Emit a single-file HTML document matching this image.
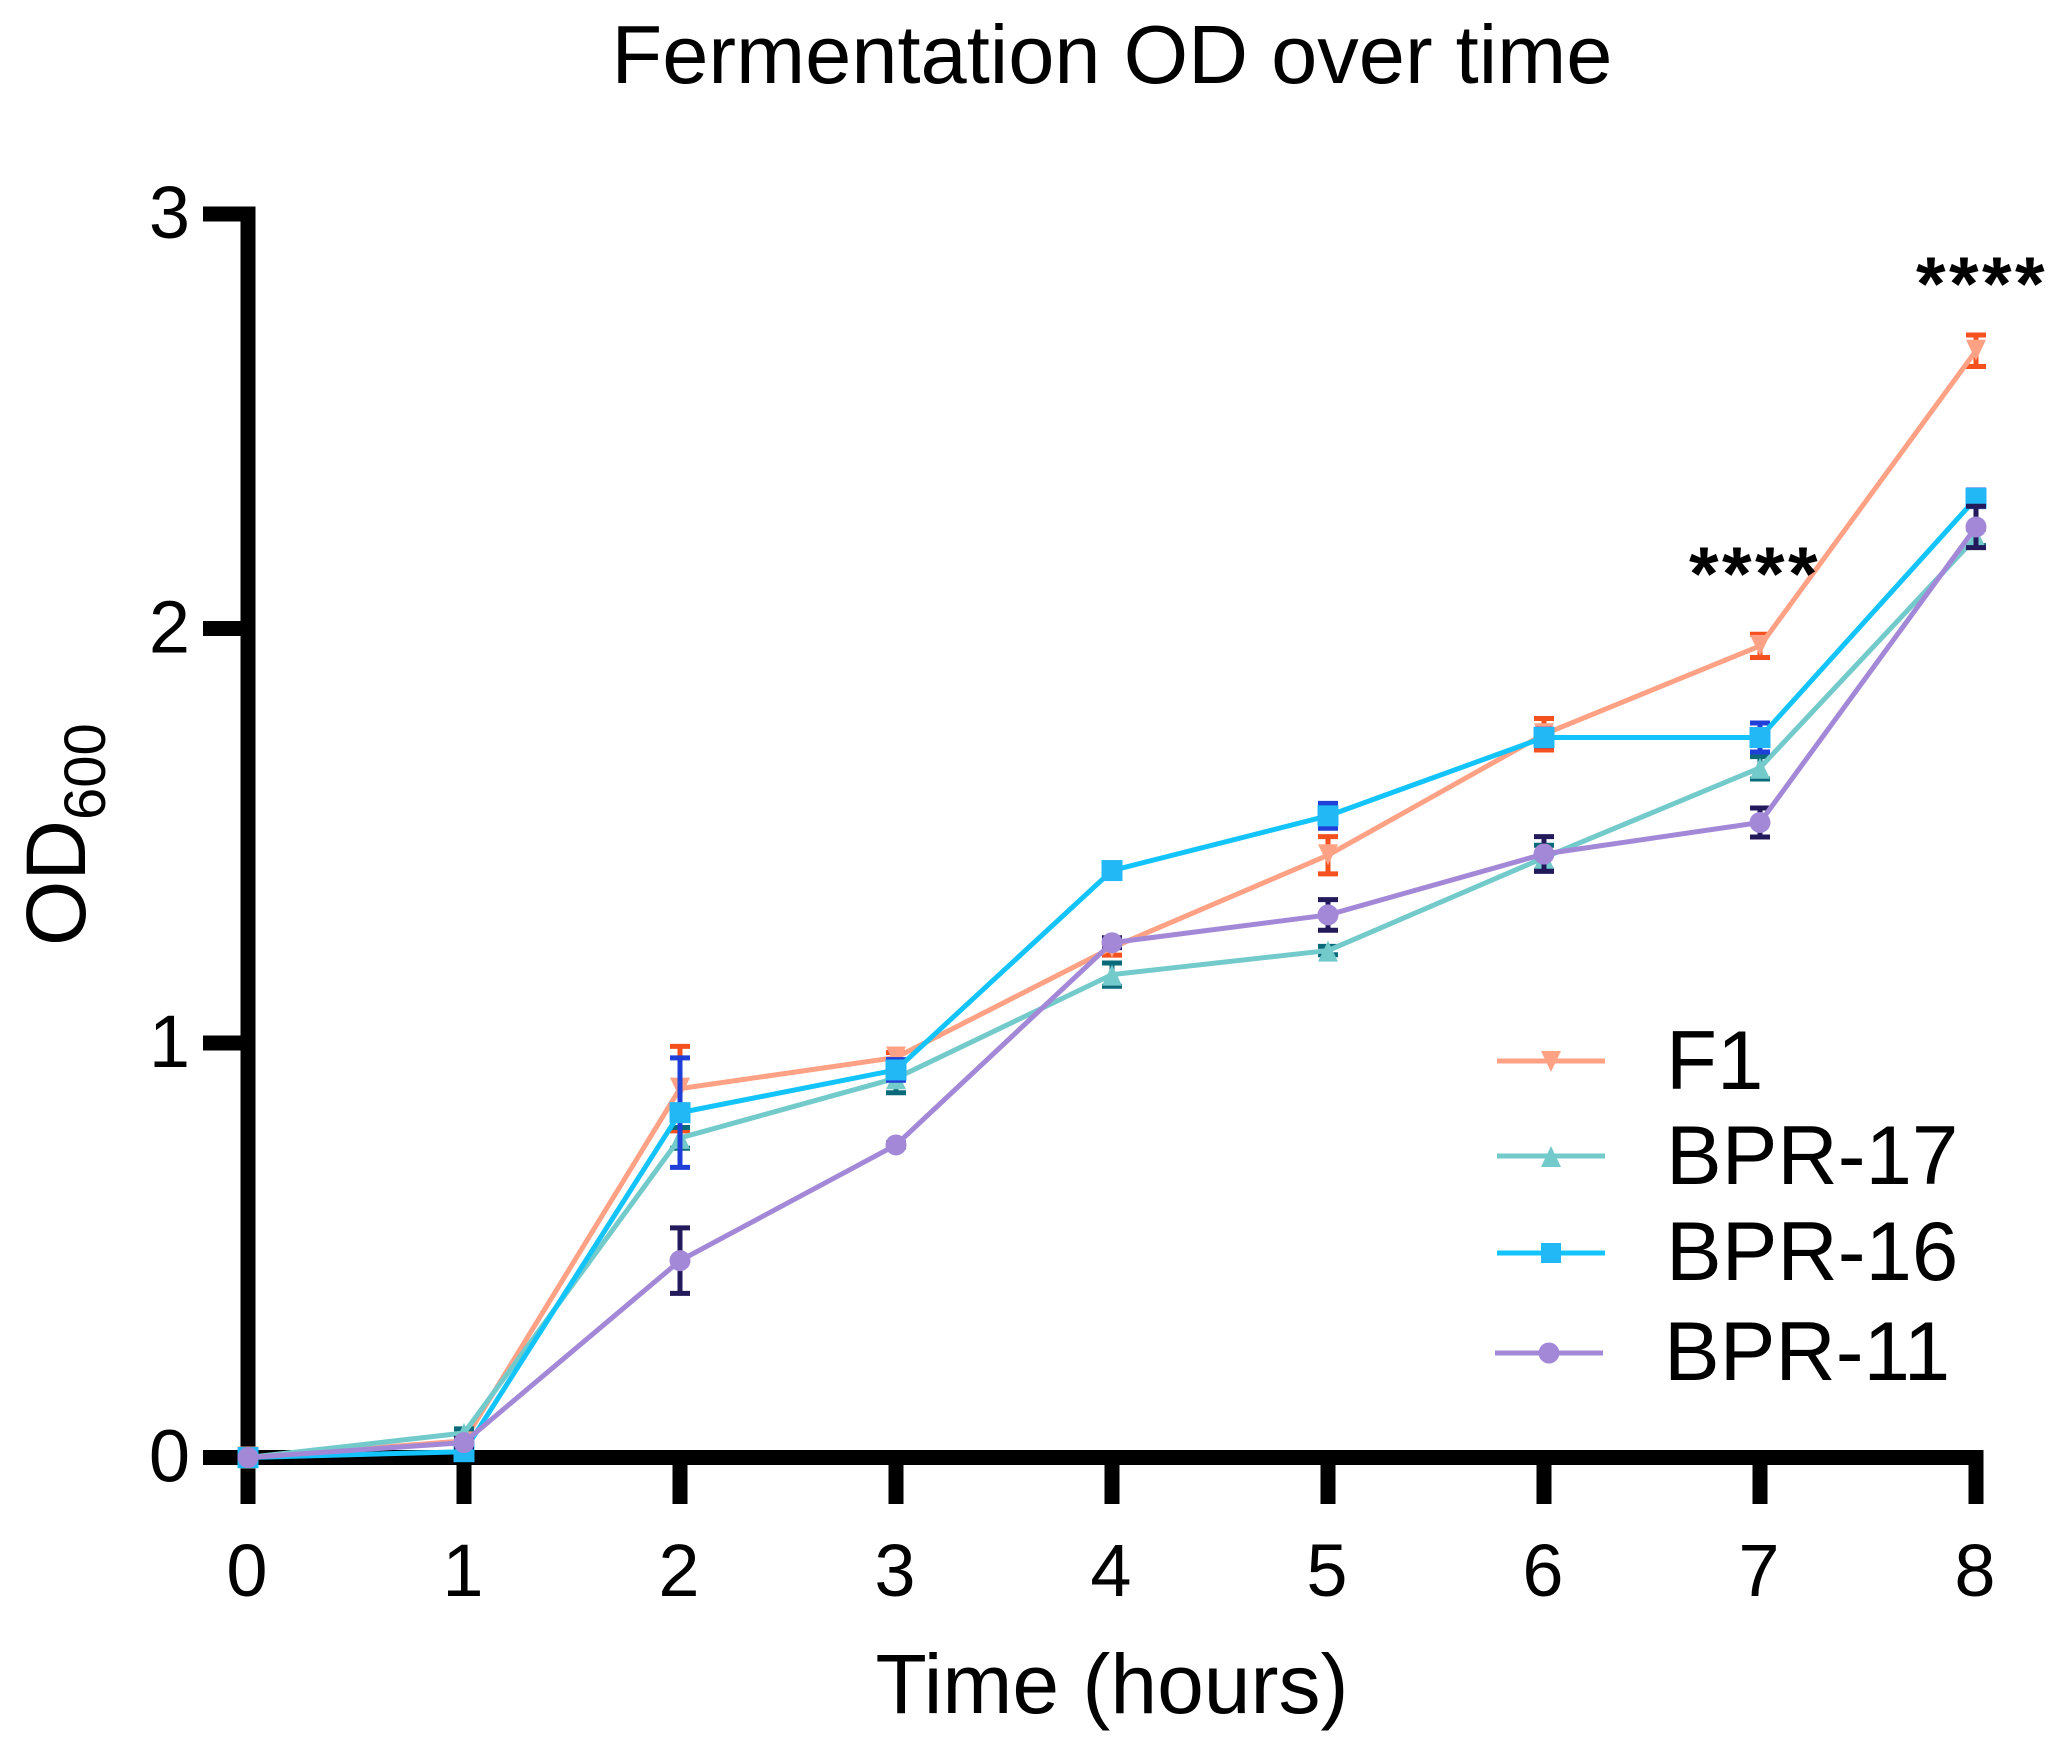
<!DOCTYPE html>
<html lang="en">
<head>
<meta charset="utf-8">
<title>Fermentation OD over time</title>
<style>
html,body{margin:0;padding:0;background:#fff;}
svg{display:block;font-family:"Liberation Sans",sans-serif;}
</style>
</head>
<body>
<svg id="chart" width="2062" height="1757" viewBox="0 0 2062 1757" xmlns="http://www.w3.org/2000/svg">
  <text x="1112" y="83" font-size="83" text-anchor="middle" fill="#000">Fermentation OD over time</text>
  <text transform="translate(85,946) rotate(-90)" font-size="84" fill="#000">OD<tspan font-size="58" dy="20">600</tspan></text>
  <text x="1112" y="1713" font-size="84" text-anchor="middle" fill="#000">Time (hours)</text>
  <g id="axes"></g>
  <g id="series"></g>
  <text x="1755" y="600" font-size="76" font-weight="bold" letter-spacing="3.4" text-anchor="middle" fill="#000">****</text>
  <text x="1982" y="310" font-size="76" font-weight="bold" letter-spacing="3.4" text-anchor="middle" fill="#000">****</text>
  <g id="legend">
    <g>
      <line x1="1497" x2="1605" y1="1061" y2="1061" stroke="#FFA184" stroke-width="5"/>
      <polygon points="1541,1051 1561,1051 1551,1072" fill="#FFA184"/>
      <text x="1666" y="1089" font-size="83.5" fill="#000">F1</text>
    </g>
    <g>
      <line x1="1497" x2="1605" y1="1156" y2="1156" stroke="#73CACB" stroke-width="5"/>
      <polygon points="1541,1167 1561,1167 1551,1146" fill="#73CACB"/>
      <text x="1666" y="1184" font-size="83.5" fill="#000">BPR-17</text>
    </g>
    <g>
      <line x1="1497" x2="1605" y1="1253" y2="1253" stroke="#12C4FB" stroke-width="5"/>
      <rect x="1541" y="1243" width="20" height="20" fill="#22B8F5"/>
      <text x="1666" y="1280" font-size="83.5" fill="#000">BPR-16</text>
    </g>
    <g>
      <line x1="1495" x2="1603" y1="1353" y2="1353" stroke="#A488D8" stroke-width="5"/>
      <circle cx="1549" cy="1353" r="10.5" fill="#A488D8"/>
      <text x="1664" y="1380" font-size="83.5" fill="#000">BPR-11</text>
    </g>
  </g>
</svg>
<script>
const hours = [0, 1, 2, 3, 4, 5, 6, 7, 8];
const yTickLabels = [0, 1, 2, 3];
const seriesNames = ['F1', 'BPR-17', 'BPR-16', 'BPR-11'];
const f1Mean = [0, 0.04, 0.89, 0.965, 1.23, 1.453, 1.745, 1.958, 2.67];
const f1Sd = [0, 0.01, 0.102, 0.012, 0.018, 0.045, 0.038, 0.028, 0.038];
const bpr17Mean = [0, 0.059, 0.771, 0.915, 1.165, 1.223, 1.447, 1.664, 2.22];
const bpr17Sd = [0, 0.01, 0.025, 0.035, 0.028, 0.01, 0.03, 0.027, 0.02];
const bpr16Mean = [0, 0.014, 0.832, 0.935, 1.416, 1.548, 1.737, 1.737, 2.314];
const bpr16Sd = [0, 0.01, 0.132, 0.025, 0.012, 0.03, 0.02, 0.035, 0.02];
const bpr11Mean = [0, 0.036, 0.475, 0.754, 1.242, 1.309, 1.456, 1.532, 2.245];
const bpr11Sd = [0, 0.01, 0.079, 0.005, 0.012, 0.037, 0.042, 0.035, 0.05];

const NS = 'http://www.w3.org/2000/svg';
const xScale = function (v) { return 248 + v * 216; };
const yScale = function (v) { return 1457.5 - v * 414.5; };

function make(parent, tag, attrs, text) {
  const el = document.createElementNS(NS, tag);
  for (const k in attrs) { el.setAttribute(k, attrs[k]); }
  if (text !== undefined) { el.textContent = text; }
  parent.appendChild(el);
  return el;
}

const axes = document.getElementById('axes');
const yAxisLine = make(axes, 'line', { x1: xScale(0), x2: xScale(0), y1: yScale(3) - 7.5, y2: 1504, stroke: '#000', 'stroke-width': 15 });


const xAxisLine = make(axes, 'line', { x1: 203, x2: xScale(8) + 7.5, y1: yScale(0), y2: yScale(0), stroke: '#000', 'stroke-width': 15 });



yTickLabels.forEach(function (v) {
  const tick = make(axes, 'line', { x1: 203, x2: xScale(0), y1: yScale(v), y2: yScale(v), stroke: '#000', 'stroke-width': 15 });
  
  
  const label = make(axes, 'text', { x: 190, y: yScale(v) + 24, 'font-size': 74, 'text-anchor': 'end', fill: '#000' }, String(v));
  
  
});

hours.forEach(function (v) {
  const tick = make(axes, 'line', { x1: xScale(v), x2: xScale(v), y1: yScale(0), y2: 1504, stroke: '#000', 'stroke-width': 15 });
  
  
  const label = make(axes, 'text', { x: xScale(v) - 1, y: 1596, 'font-size': 74, 'text-anchor': 'middle', fill: '#000' }, String(v));
  
  
});

const seriesMeans = [f1Mean, bpr17Mean, bpr16Mean, bpr11Mean];
const seriesSds = [f1Sd, bpr17Sd, bpr16Sd, bpr11Sd];
const lineColors = ['#FFA184', '#73CACB', '#12C4FB', '#A488D8'];
const errColors = ['#F4511E', '#0B6A7A', '#1F3FD8', '#231A5C'];
const markerColors = ['#FFA184', '#73CACB', '#22B8F5', '#A488D8'];
const markerKinds = ['down', 'up', 'square', 'circle'];

function drawMarker(g, kind, cx, cy, color) {
  if (kind === 'down') {
    return make(g, 'polygon', { points: (cx - 10) + ',' + (cy - 11) + ' ' + (cx + 10) + ',' + (cy - 11) + ' ' + cx + ',' + (cy + 10), fill: color });
  }
  if (kind === 'up') {
    return make(g, 'polygon', { points: (cx - 10) + ',' + (cy + 11) + ' ' + (cx + 10) + ',' + (cy + 11) + ' ' + cx + ',' + (cy - 10), fill: color });
  }
  if (kind === 'square') {
    return make(g, 'rect', { x: cx - 10.5, y: cy - 10.5, width: 21, height: 21, fill: color });
  }
  return make(g, 'circle', { cx: cx, cy: cy, r: 10.5, fill: color });
}

const seriesRoot = document.getElementById('series');
seriesNames.forEach(function (name, i) {
  const g = make(seriesRoot, 'g', {});
  
  
  const means = seriesMeans[i];
  const sds = seriesSds[i];
  hours.forEach(function (h, j) {
    if (sds[j] <= 0) { return; }
    const px = xScale(h);
    const hi = yScale(means[j] + sds[j]);
    const lo = yScale(means[j] - sds[j]);
    const bar = make(g, 'path', { d: 'M' + (px - 10) + ' ' + hi + 'H' + (px + 10) + 'M' + px + ' ' + hi + 'V' + lo + 'M' + (px - 10) + ' ' + lo + 'H' + (px + 10), fill: 'none', stroke: errColors[i], 'stroke-width': 5 });
    
    
  });
  const pts = hours.map(function (h, j) { return xScale(h) + ',' + yScale(means[j]); }).join(' ');
  const line = make(g, 'polyline', { points: pts, fill: 'none', stroke: lineColors[i], 'stroke-width': 5, 'stroke-linejoin': 'round' });
  
  
  hours.forEach(function (h, j) {
    const marker = drawMarker(g, markerKinds[i], xScale(h), yScale(means[j]), markerColors[i]);
    
    
  });
});
</script>
</body>
</html>
